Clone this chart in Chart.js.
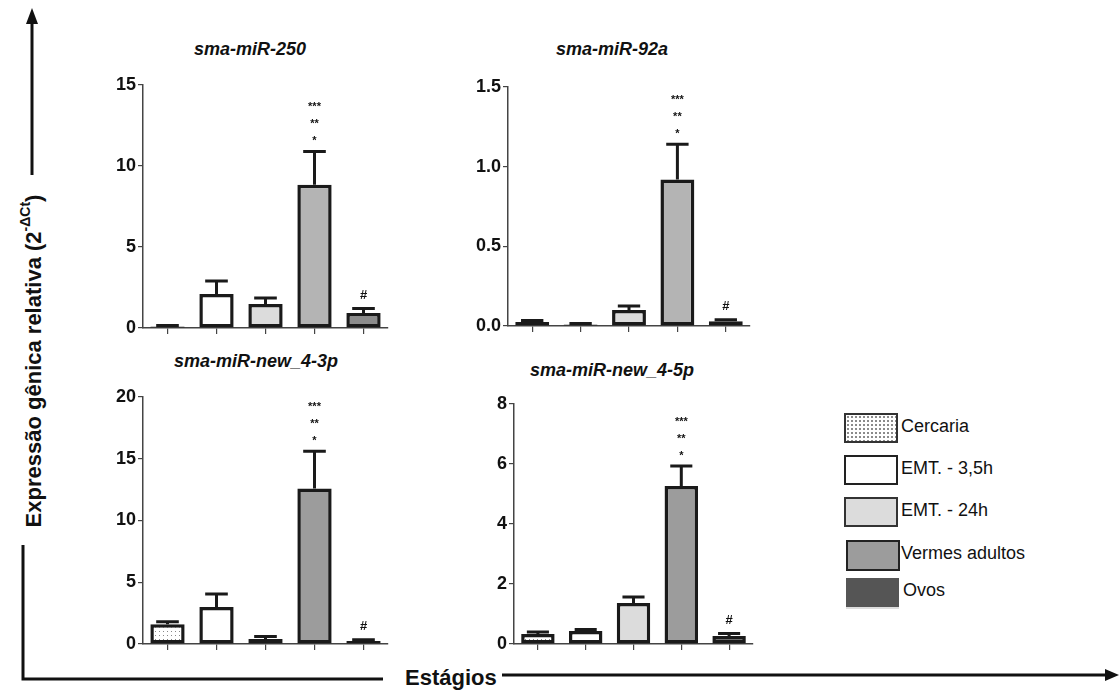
<!DOCTYPE html>
<html>
<head>
<meta charset="utf-8">
<script src="https://cdn.jsdelivr.net/npm/chart.js@4.4.1/dist/chart.umd.min.js"></script>
<style>
  body { margin: 0; background: #fff; font-family: "Liberation Sans", Arial, sans-serif; }
  #page { position: relative; width: 1119px; height: 693px; overflow: hidden; }
  canvas.panel { position: absolute; }
  .ttl { position: absolute; font-weight: bold; font-style: italic; font-size: 18px; color: #111; transform: translate(-50%, -50%); white-space: nowrap; }
  .lg { position: absolute; font-size: 18px; color: #111; }
  .box { position: absolute; box-sizing: border-box; }
  #ytitle { position: absolute; left: 33px; top: 361px; transform: translate(-50%, -50%) rotate(-90deg); font-weight: bold; font-size: 22px; white-space: nowrap; color: #111; }
  #ytitle sup { font-size: 14px; position: relative; top: -2px; }
  #xtitle { position: absolute; left: 405px; top: 665px; font-weight: bold; font-size: 22px; color: #111; }
</style>
</head>
<body>
<div id="page">
  <svg width="1119" height="693" style="position:absolute;left:0;top:0">
    <line x1="32" y1="22" x2="32" y2="175" stroke="#111" stroke-width="3"/>
    <polygon points="32,8 26,24 38,24" fill="#111"/>
    <polyline points="23,545 23,679 383,679" fill="none" stroke="#111" stroke-width="3"/>
    <line x1="502" y1="675" x2="1106" y2="675" stroke="#111" stroke-width="3"/>
    <polygon points="1119,675 1105,669 1105,681" fill="#111"/>
  </svg>
  <div id="ytitle">Expressão gênica relativa (2<sup>-ΔCt</sup>)</div>
  <div id="xtitle">Estágios</div>

  <div class="ttl" style="left:250px;top:49px">sma-miR-250</div>
  <div class="ttl" style="left:612px;top:49px">sma-miR-92a</div>
  <div class="ttl" style="left:256px;top:361px">sma-miR-new_4-3p</div>
  <div class="ttl" style="left:612px;top:370px">sma-miR-new_4-5p</div>

  <canvas class="panel" id="c1" width="310" height="290" style="left:90px;top:60px"></canvas>
  <canvas class="panel" id="c2" width="330" height="290" style="left:440px;top:60px"></canvas>
  <canvas class="panel" id="c3" width="310" height="300" style="left:90px;top:370px"></canvas>
  <canvas class="panel" id="c4" width="330" height="300" style="left:440px;top:370px"></canvas>

  <!-- legend -->
  <div class="box" style="left:844px;top:413px;width:54px;height:30px;border:2px solid #333;background:#fff radial-gradient(#888 0.7px, transparent 1px) 0 0/4px 4px"></div>
  <div class="lg" style="left:901px;top:416px">Cercaria</div>
  <div class="box" style="left:844px;top:455px;width:54px;height:30px;border:2px solid #222;background:#fff"></div>
  <div class="lg" style="left:901px;top:458px">EMT. - 3,5h</div>
  <div class="box" style="left:844px;top:497px;width:54px;height:30px;border:2px solid #333;background:#dcdcdc"></div>
  <div class="lg" style="left:901px;top:500px">EMT. - 24h</div>
  <div class="box" style="left:846px;top:540px;width:54px;height:31px;border:2px solid #222;background:#9c9c9c"></div>
  <div class="lg" style="left:901px;top:543px">Vermes adultos</div>
  <div class="box" style="left:846px;top:578px;width:53px;height:31px;background:#555;border-bottom:2px solid #ddd"></div>
  <div class="lg" style="left:903px;top:580px">Ovos</div>
</div>

<script>
// categories
var stages = ["Cercaria", "EMT. - 3,5h", "EMT. - 24h", "Vermes adultos", "Ovos"];

// mean values and mean+SEM (top of the error bar)
var mir250 = [0.1, 2.1, 1.48, 8.85, 0.93];
var mir250Top = [0.15, 2.9, 1.85, 10.9, 1.2];
var mir92a = [0.025, 0.01, 0.1, 0.92, 0.03];
var mir92aTop = [0.035, 0.015, 0.125, 1.14, 0.04];
var new43p = [1.6, 3.0, 0.4, 12.6, 0.25];
var new43pTop = [1.8, 4.05, 0.6, 15.6, 0.35];
var new45p = [0.33, 0.43, 1.37, 5.27, 0.27];
var new45pTop = [0.4, 0.48, 1.57, 5.93, 0.35];

// significance labels per bar
var marks = [[], [], [], ["*", "**", "***"], ["#"]];

// dotted fill for Cercaria
var pc = document.createElement("canvas");
pc.width = 4; pc.height = 4;
var pctx = pc.getContext("2d");
pctx.fillStyle = "#fff";
pctx.fillRect(0, 0, 4, 4);
pctx.fillStyle = "#888";
pctx.fillRect(1, 1, 1, 1);
var dots = pctx.createPattern(pc, "repeat");

var topColors = [dots, "#ffffff", "#dcdcdc", "#b4b4b4", "#8c8c8c"];
var bottomColors = [dots, "#ffffff", "#dcdcdc", "#9c9c9c", "#555555"];

var errorBars = {
    id: "errorBars",
    afterDatasetsDraw: function (chart) {
        var ctx = chart.ctx;
        var meta = chart.getDatasetMeta(0);
        var yScale = chart.scales.y;
        var tops = chart.options.plugins.errorBars.tops;
        ctx.save();
        ctx.strokeStyle = "#1a1a1a";
        ctx.lineWidth = 3;
        meta.data.forEach(function (bar, i) {
            var ey = yScale.getPixelForValue(tops[i]);
            var cap = bar.width * 0.33;
            ctx.beginPath();
            ctx.moveTo(bar.x, bar.y);
            ctx.lineTo(bar.x, ey);
            ctx.moveTo(bar.x - cap, ey);
            ctx.lineTo(bar.x + cap, ey);
            ctx.stroke();
            ctx.fillStyle = "#111";
            ctx.textAlign = "center";
            ctx.textBaseline = "middle";
            marks[i].forEach(function (m, k) {
                if (m === "#") {
                    ctx.font = "bold 13px 'Liberation Sans', Arial";
                    ctx.fillText(m, bar.x, ey - 13);
                } else {
                    ctx.font = "bold 11px 'Liberation Sans', Arial";
                    ctx.fillText(m, bar.x, ey - 10 - k * 17);
                }
            });
        });
        ctx.restore();
    }
};

function makeChart(id, values, tops, colors, max, step, decimals, area) {
    return new Chart(document.getElementById(id), {
        type: "bar",
        data: {
            labels: stages,
            datasets: [{
                data: values,
                backgroundColor: colors,
                borderColor: "#1a1a1a",
                borderWidth: 3.5,
                borderSkipped: false,
                barPercentage: 0.7,
                categoryPercentage: 1.0
            }]
        },
        options: {
            responsive: false,
            animation: false,
            layout: { padding: { top: area.top, right: area.right, left: 0, bottom: 0 } },
            plugins: {
                legend: { display: false },
                tooltip: { enabled: false },
                errorBars: { tops: tops }
            },
            scales: {
                x: {
                    grid: { display: true, drawOnChartArea: false, offset: false, tickLength: 6, color: "#444", lineWidth: 1.2 },
                    border: { color: "#444", width: 1.5 },
                    ticks: { display: false },
                    afterFit: function (s) { s.height = area.bottom; }
                },
                y: {
                    min: 0,
                    max: max,
                    grid: { display: true, drawOnChartArea: false, tickLength: 5, color: "#444", lineWidth: 1.2 },
                    border: { color: "#444", width: 1.5 },
                    ticks: {
                        stepSize: step,
                        padding: 2,
                        color: "#111",
                        font: { family: "'Liberation Sans', Arial", weight: "bold", size: 18 },
                        callback: function (v) { return v.toFixed(decimals); }
                    },
                    afterFit: function (s) { s.width = area.left; }
                }
            }
        },
        plugins: [errorBars]
    });
}

makeChart("c1", mir250, mir250Top, topColors, 15, 5, 0, { left: 53, top: 25, right: 12, bottom: 22 });
makeChart("c2", mir92a, mir92aTop, topColors, 1.5, 0.5, 1, { left: 68, top: 27, right: 20, bottom: 24 });
makeChart("c3", new43p, new43pTop, bottomColors, 20, 5, 0, { left: 53, top: 27, right: 12, bottom: 26 });
makeChart("c4", new45p, new45pTop, bottomColors, 8, 2, 0, { left: 74, top: 34, right: 17, bottom: 26 });
</script>
</body>
</html>
